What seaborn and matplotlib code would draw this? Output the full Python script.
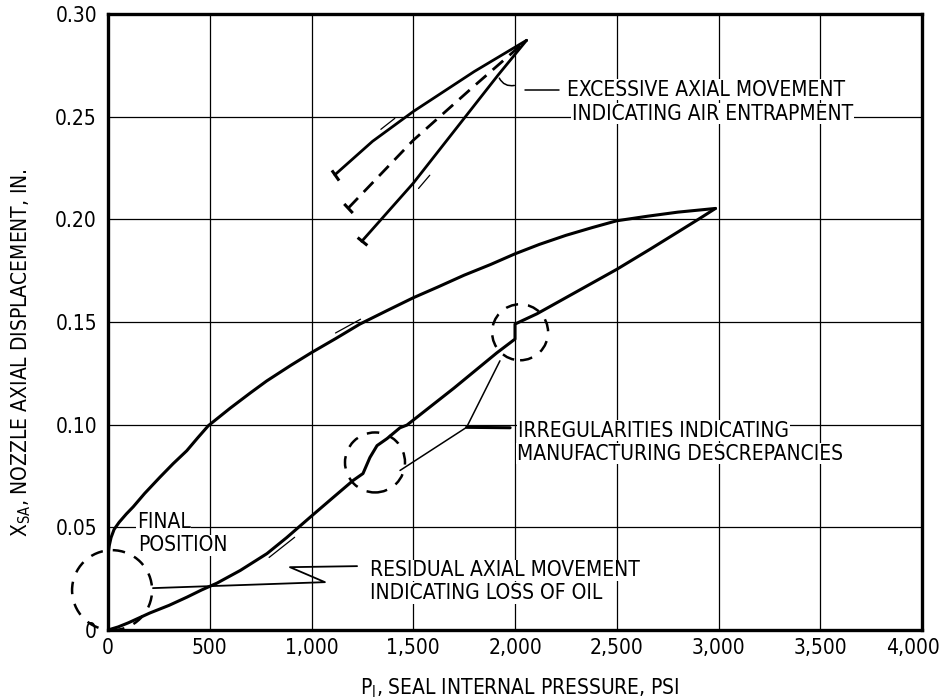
import matplotlib
matplotlib.use("Agg")
import matplotlib.pyplot as plt
from matplotlib.patches import Ellipse
from matplotlib.transforms import ScaledTranslation
import seaborn as sns

# ---------------- data ----------------
# loading branch of the main loop (PSI, inches)
load_p = [0, 50, 100, 206, 300, 388, 460, 535, 650, 781, 878, 993, 1100, 1204, 1253,
          1287, 1322, 1371, 1435, 1469, 1700, 1911, 1975, 2000, 2000, 2108, 2300,
          2501, 2663, 2800, 2909, 2985]
load_x = [0, 0.0015, 0.0035, 0.0083, 0.0120, 0.0160, 0.0195, 0.0228, 0.0290, 0.0372,
          0.0450, 0.0549, 0.0640, 0.0728, 0.0762, 0.0840, 0.0898, 0.0932, 0.0985,
          0.0998, 0.1178, 0.1350, 0.1398, 0.1417, 0.1490, 0.1540, 0.1646, 0.1757,
          0.1854, 0.1938, 0.2005, 0.2053]
# unloading branch of the main loop
unload_p = [2985, 2800, 2650, 2500, 2380, 2250, 2120, 2000, 1880, 1750, 1620, 1500,
            1370, 1238, 1120, 1000, 900, 780, 700, 600, 493, 440, 387, 320, 255, 180,
            124, 90, 55, 30, 15, 6, 0]
unload_x = [0.2053, 0.2035, 0.2015, 0.1993, 0.1960, 0.1922, 0.1878, 0.1832, 0.1780,
            0.1728, 0.1670, 0.1618, 0.1555, 0.1490, 0.1420, 0.1351, 0.1290, 0.1213,
            0.1155, 0.1080, 0.0995, 0.0935, 0.0873, 0.0810, 0.0744, 0.0665, 0.0600,
            0.0565, 0.0525, 0.0490, 0.0450, 0.0410, 0.0365]
# air-entrapment test lines
air_up_p = [1115, 1300, 1500, 1800, 2057]
air_up_x = [0.2217, 0.2380, 0.2525, 0.2720, 0.2872]
air_mid_p = [1181, 1500, 1800, 2057]
air_mid_x = [0.2055, 0.2385, 0.2650, 0.2872]
air_low_p = [1247, 1500, 1918, 2057]
air_low_x = [0.1893, 0.2176, 0.2704, 0.2872]

xticks = [0, 500, 1000, 1500, 2000, 2500, 3000, 3500, 4000]
xtick_labels = ["0", "500", "1,000", "1,500", "2,000", "2,500", "3,000", "3,500", "4,000"]
yticks = [0, 0.05, 0.10, 0.15, 0.20, 0.25, 0.30]
ytick_labels = ["0", "0.05", "0.10", "0.15", "0.20", "0.25", "0.30"]

x_title = "P$_{I}$, SEAL INTERNAL PRESSURE, PSI"
y_title = "X$_{SA}$, NOZZLE AXIAL DISPLACEMENT, IN."

notes = [
    ("EXCESSIVE AXIAL MOVEMENT", 2256, 0.2631),
    ("INDICATING AIR ENTRAPMENT", 2280, 0.2515),
    ("IRREGULARITIES INDICATING", 2015, 0.0971),
    ("MANUFACTURING DESCREPANCIES", 2010, 0.0859),
    ("RESIDUAL AXIAL MOVEMENT", 1287, 0.0291),
    ("INDICATING LOSS OF OIL", 1287, 0.0180),
    ("FINAL", 142, 0.0526),
    ("POSITION", 147, 0.0413),
]
# dashed circles: (center p, center x, radius in pixels)
circles = [(2025, 0.1450, 28), (1312, 0.0816, 30), (20, 0.0194, 40)]
# leader lines
leader_residual_p = [221, 1066, 894, 1224]
leader_residual_x = [0.0204, 0.0233, 0.0306, 0.0311]
leader_irr_a_p = [1926, 1762, 1435]
leader_irr_a_x = [0.1311, 0.0987, 0.0777]
leader_irr_b_p = [1762, 1976]
leader_irr_b_x = [0.0987, 0.0985]
leader_air_p = [2050, 2215]
leader_air_x = [0.2630, 0.2630]
# small direction strokes (start p, start x, end p, end x)
strokes = [(1330, 0.2430, 1420, 0.2500), (1517, 0.2140, 1590, 0.2225),
           (1253, 0.1520, 1106, 0.1440), (781, 0.0345, 928, 0.0460)]
# end-of-run hooks on the air-entrapment lines (p, x, marker angle)
hooks = [(1115, 0.2217, 35), (1181, 0.2055, 43), (1247, 0.1893, 51)]

# ---------------- style ----------------
sns.set_theme(style="white")
plt.rcParams['font.family'] = ['DejaVu Sans']
plt.rcParams['font.stretch'] = 'condensed'
plt.rcParams['mathtext.default'] = 'regular'

fig = plt.figure(figsize=(9.44, 6.98), dpi=100)
ax = fig.add_axes([108 / 944, 68 / 698, 814 / 944, 616 / 698])
ax.set_xlim(0, 4000)
ax.set_ylim(0, 0.30)

ink = "black"
sns.lineplot(x=load_p, y=load_x, sort=False, estimator=None, color=ink, lw=2.2, ax=ax)
sns.lineplot(x=unload_p, y=unload_x, sort=False, estimator=None, color=ink, lw=2.2, ax=ax)
sns.lineplot(x=air_up_p, y=air_up_x, sort=False, estimator=None, color=ink, lw=2.0, ax=ax)
sns.lineplot(x=air_mid_p, y=air_mid_x, sort=False, estimator=None, color=ink, lw=2.0,
             linestyle=(0, (5, 3)), ax=ax)
sns.lineplot(x=air_low_p, y=air_low_x, sort=False, estimator=None, color=ink, lw=2.0, ax=ax)
for hp, hx, ang in hooks:
    ax.plot([hp], [hx], marker=(2, 0, ang), markersize=9, mew=2.2, color=ink)

# leaders
ax.plot(leader_residual_p, leader_residual_x, color=ink, lw=1.3)
ax.plot(leader_irr_a_p, leader_irr_a_x, color=ink, lw=1.1)
ax.plot(leader_irr_b_p, leader_irr_b_x, color=ink, lw=2.2)
ax.plot(leader_air_p, leader_air_x, color=ink, lw=1.1)
ax.annotate("", xy=(2010, 0.2655), xytext=(1917, 0.2700),
            arrowprops=dict(arrowstyle="-", color=ink, lw=1.1,
                            connectionstyle="arc3,rad=0.45"))
for p0, x0, p1, x1 in strokes:
    ax.annotate("", xy=(p1, x1), xytext=(p0, x0),
                arrowprops=dict(arrowstyle="-", color=ink, lw=0.9))

# dashed circles (radii given in pixels)
fig.canvas.draw()
o = ax.transData.transform((0, 0))
px_per_p = (ax.transData.transform((1000, 0))[0] - o[0]) / 1000
px_per_x = (ax.transData.transform((0, 0.1))[1] - o[1]) / 0.1
for cp, cx, r in circles:
    ax.add_patch(Ellipse((cp, cx), 2 * r / px_per_p, 2 * r / px_per_x, fill=False,
                         edgecolor=ink, lw=1.8, linestyle=(0, (5, 4)), clip_on=False,
                         zorder=4))

for txt, p, xv in notes:
    ax.text(p, xv, txt, fontsize=15, ha="left", va="center", color=ink, zorder=5,
            bbox=dict(facecolor="white", edgecolor="none", pad=0.5))

# axes
ax.set_xticks(xticks)
ax.set_xticklabels(xtick_labels)
ax.set_yticks(yticks)
ax.set_yticklabels(ytick_labels)
ax.tick_params(length=0, labelsize=15, colors=ink)
ax.tick_params(axis="x", pad=6)
ax.tick_params(axis="y", pad=8)
last = ax.get_xticklabels()[-1]
last.set_transform(last.get_transform() + ScaledTranslation(-9 / 100, 0, fig.dpi_scale_trans))
ax.grid(True, color=ink, lw=0.9)
ax.set_axisbelow(True)
for s in ax.spines.values():
    s.set_color(ink)
    s.set_linewidth(2.4)
ax.set_xlabel(x_title, fontsize=15, color=ink)
ax.set_ylabel(y_title, fontsize=15, color=ink)
ax.xaxis.set_label_coords(0.506, -0.075)
ax.yaxis.set_label_coords(-0.092, 0.451)

fig.savefig("out.png", dpi=100)
